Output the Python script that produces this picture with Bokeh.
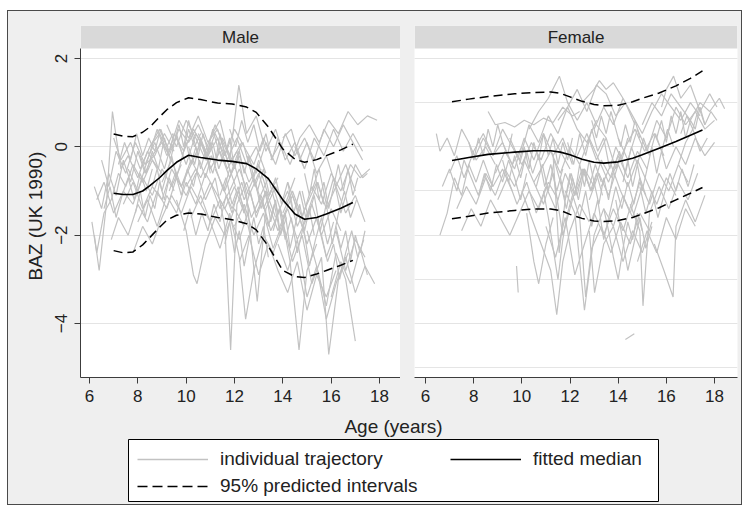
from bokeh.plotting import figure
from bokeh.layouts import column, row
from bokeh.models import (ColumnDataSource, FixedTicker, Range1d, Title, Label,
                          Legend, LegendItem, Grid)
from bokeh.embed import file_html
from bokeh.resources import INLINE

FONT = "Liberation Sans"
OUTER = "#efefef"
STRIP = "#d9d9d9"
TRAJ = "#c2c2c2"
AXIS = "#3c3c3c"
GRID = "#e4e4e4"
NAN = float("nan")

panel_titles = ["Male", "Female"]
age_ticks = [6, 8, 10, 12, 14, 16, 18]
baz_ticks = [-4, -2, 0, 2]
y_title = "BAZ (UK 1990)"
x_title = "Age (years)"
legend_labels = ["individual trajectory", "fitted median", "95% predicted intervals"]

# ---------------- Male: individual trajectories ----------------
male_ages = [
    [6.1, 6.3, 6.6, 6.9, 7.2, 7.5, 7.8, 8.2, 8.6, 9.0],
    [6.2, 6.4, 6.7, 6.95, 7.3, 7.6, 8.0, 8.4, 8.8],
    [6.3, 6.6, 7.0, 7.4, 7.8, 8.2, 8.6, 9.0, 9.4, 9.8],
    [6.5, 6.8, 7.1, 7.5, 7.9, 8.3, 8.7, 9.1, 9.5],
    [6.9, 7.2, 7.6, 8.0, 8.4, 8.8, 9.2, 9.6, 10.0, 10.4],
    [7.0, 7.3, 7.7, 8.1, 8.5, 8.9, 9.3, 9.7, 10.1, 10.5, 10.9],
    [7.4, 7.8, 8.2, 8.6, 9.0, 9.4, 9.8, 10.2, 10.6, 11.0],
    [7.6, 8.0, 8.4, 8.8, 9.2, 9.6, 10.0, 10.4, 10.8, 11.2, 11.6, 12.0],
    [8.0, 8.4, 8.8, 9.2, 9.6, 10.0, 10.4, 10.8, 11.2, 11.6, 12.0, 12.4],
    [8.5, 8.9, 9.3, 9.7, 10.1, 10.5, 10.9, 11.3, 11.7, 12.1, 12.5, 12.9, 13.3],
    [9.0, 9.4, 9.8, 10.2, 10.6, 11.0, 11.4, 11.8, 12.2, 12.6, 13.0, 13.4, 13.8],
    [9.6, 10.0, 10.3, 10.45, 10.8, 11.2, 11.6, 12.0, 12.4],
    [10.0, 10.4, 10.8, 11.2, 11.6, 11.84, 12.1, 12.5, 12.9, 13.3, 13.7],
    [10.2, 10.6, 11.0, 11.4, 11.8, 12.2, 12.46, 12.8, 13.2, 13.6, 14.0],
    [10.5, 10.9, 11.3, 11.7, 12.1, 12.5, 12.94, 13.3, 13.7, 14.1, 14.5],
    [11.0, 11.4, 11.8, 12.18, 12.5, 12.9, 13.3, 13.7, 14.1, 14.5, 14.9],
    [11.5, 11.9, 12.3, 12.7, 13.1, 13.5, 13.9, 14.3, 14.67, 15.0, 15.4],
    [12.0, 12.4, 12.8, 13.2, 13.6, 14.0, 14.4, 14.8, 15.2, 15.6, 15.9, 16.3, 16.7],
    [12.5, 12.9, 13.3, 13.7, 14.1, 14.5, 14.9, 15.3, 15.7, 16.1, 16.5, 16.9, 17.3],
    [13.0, 13.4, 13.8, 14.2, 14.6, 15.0, 15.4, 15.8, 16.2, 16.6, 17.0, 17.4],
    [13.5, 13.9, 14.3, 14.7, 15.1, 15.5, 15.9, 16.3, 16.7, 17.1, 17.5, 17.9],
    [13.8, 14.2, 14.6, 15.0, 15.4, 15.8, 16.2, 16.6, 17.0, 17.4, 17.8],
    [14.0, 14.4, 14.8, 15.2, 15.6, 16.0, 16.4, 16.8, 17.2, 17.6],
    [14.2, 14.6, 15.0, 15.4, 15.8, 16.2, 16.6, 17.0, 17.4],
    [14.5, 14.9, 15.3, 15.7, 16.1, 16.5, 16.9, 17.3],
    [15.0, 15.4, 15.8, 16.2, 16.6, 17.0],
    [6.2, 6.5, 6.8, 7.1, 7.4, 7.7, 8.0, 8.3, 8.6, 9.0, 9.4],
    [7.8, 8.2, 8.6, 9.0, 9.4, 9.8, 10.2, 10.6, 11.0, 11.4, 11.8, 12.2, 12.6],
    [9.2, 9.6, 10.0, 10.4, 10.8, 11.2, 11.6, 12.0, 12.4, 12.8, 13.2, 13.6],
    [11.2, 11.6, 12.0, 12.4, 12.8, 13.2, 13.6, 14.0, 14.4, 14.8, 15.2, 15.6, 16.0, 16.4],
    [12.2, 12.6, 13.0, 13.4, 13.8, 14.2, 14.6, 15.0, 15.4, 15.8, 16.2],
    [15.2, 15.5, 15.8, 16.1, 16.4, 16.7, 17.0, 17.3, 17.5],
    [14.0, 14.35, 14.7, 15.0, 15.4, 15.8, 16.2, 16.6, 17.0],
    [8.3, 8.7, 9.1, 9.5, 9.9, 10.3, 10.7, 11.1, 11.5, 11.9, 12.3],
    [10.6, 11.0, 11.4, 11.8, 12.2, 12.6, 13.0, 13.4, 13.8, 14.2, 14.6, 15.0],
    [16.0, 16.4, 16.8, 17.2, 17.5],
    [8.1, 8.35, 8.6, 8.85, 9.1, 9.35, 9.6, 9.85, 10.1, 10.35, 10.6],
    [9.3, 9.55, 9.8, 10.05, 10.3, 10.55, 10.8, 11.05, 11.3, 11.55, 11.8, 12.05],
    [10.1, 10.35, 10.6, 10.85, 11.1, 11.35, 11.6, 11.85, 12.1, 12.35, 12.6, 12.85, 13.1],
    [11.4, 11.65, 11.9, 12.15, 12.4, 12.65, 12.9, 13.15, 13.4, 13.65, 13.9, 14.15],
    [12.7, 12.95, 13.2, 13.45, 13.7, 13.95, 14.2, 14.45, 14.7, 14.95, 15.2, 15.45, 15.7],
    [13.6, 13.85, 14.1, 14.35, 14.6, 14.85, 15.1, 15.35, 15.6, 15.85, 16.1],
    [14.8, 15.05, 15.3, 15.55, 15.8, 16.05, 16.3, 16.55, 16.8, 17.05],
    [6.6, 6.85, 7.1, 7.35, 7.6, 7.85, 8.1, 8.35, 8.6],
    [7.2, 7.45, 7.7, 7.95, 8.2, 8.45, 8.7, 8.95, 9.2, 9.45],
    [9.9, 10.15, 10.4, 10.65, 10.9, 11.15, 11.4, 11.65, 11.9, 12.15, 12.4, 12.65],
    [15.6, 15.85, 16.1, 16.35, 16.6, 16.85, 17.1, 17.35],
    [11.8, 12.05, 12.3, 12.55, 12.8, 13.05, 13.3, 13.55, 13.8, 14.05],
    [8.6, 8.8, 9.0, 9.2, 9.4, 9.6, 9.8, 10.0, 10.2, 10.4, 10.6, 10.8, 11.0],
    [10.8, 11.0, 11.2, 11.4, 11.6, 11.8, 12.0, 12.2, 12.4, 12.6, 12.8, 13.0],
    [12.9, 13.1, 13.3, 13.5, 13.7, 13.9, 14.1, 14.3, 14.5, 14.7, 14.9, 15.1, 15.3],
    [14.9, 15.1, 15.3, 15.5, 15.7, 15.9, 16.1, 16.3, 16.5, 16.7, 16.9, 17.1],
    [9.5, 9.7, 9.9, 10.1, 10.3, 10.5, 10.7, 10.9, 11.1, 11.3, 11.5],
    [7.9, 8.1, 8.3, 8.5, 8.7, 8.9, 9.1, 9.3, 9.5],
    [16.2, 16.4, 16.6, 16.8, 17.0, 17.2, 17.4],
    [11.6, 11.8, 12.0, 12.2, 12.4, 12.6, 12.8, 13.0, 13.2, 13.4],
]
male_baz = [
    [-1.7, -2.4, -1.5, -1.2, -0.6, -0.9, -0.4, -0.8, -0.3, -0.6],
    [-2.0, -2.8, -1.3, 0.8, -0.5, -0.2, -0.7, -0.1, -0.5],
    [-1.2, -0.8, -1.5, -1.0, -1.3, -0.7, -1.1, -0.5, -0.9, -0.4],
    [-0.3, -0.9, -0.1, -0.6, 0.1, -0.4, -0.2, 0.3, -0.1],
    [-2.1, -1.6, -2.0, -1.3, -1.7, -1.0, -1.4, -0.7, -1.1, -0.6],
    [0.2, -0.3, 0.1, -0.5, 0.0, 0.3, -0.2, 0.4, 0.1, 0.5, 0.0],
    [-1.3, -0.8, -1.4, -0.9, -1.2, -0.5, -0.9, -0.3, -0.7, -0.2],
    [-0.5, -1.0, -0.3, 0.4, -0.2, 0.2, -0.4, 0.3, -0.1, 0.5, 0.0, -0.5],
    [-1.7, -1.2, -1.8, -1.1, -1.5, -0.8, -1.3, -0.6, -1.0, -1.4, -0.9, -1.5],
    [0.0, 0.4, -0.1, 0.6, 0.2, 0.7, 0.1, 0.4, -0.3, 0.2, -0.4, 0.0, -0.6],
    [-0.8, -0.3, -0.9, -0.4, 0.1, -0.5, -0.1, -0.7, -0.2, -0.8, -0.4, -1.1, -0.7],
    [-1.2, -1.9, -2.9, -3.1, -2.2, -1.6, -2.0, -1.4, -1.8],
    [-0.9, -0.5, -1.2, -0.7, -1.8, -4.6, -1.3, -0.8, -1.5, -1.0, -1.6],
    [-1.6, -1.1, -1.7, -2.3, -1.5, -2.5, -3.9, -2.8, -2.0, -2.4, -1.8],
    [0.3, -0.2, 0.2, -0.5, -0.1, -1.1, -3.5, -1.4, -0.9, -1.3, -0.7],
    [0.2, 0.6, -0.3, 1.4, 0.3, 0.7, -0.1, 0.4, -0.3, 0.1, -0.5],
    [-0.9, -1.4, -0.8, -1.6, -1.1, -1.9, -1.4, -2.6, -4.6, -2.8, -2.2],
    [-1.8, -1.3, -2.0, -1.5, -2.3, -1.7, -2.6, -2.0, -3.1, -2.5, -4.7, -3.0, -2.4],
    [-0.2, -0.6, 0.1, -0.4, 0.3, -0.2, 0.2, -0.3, 0.4, 0.0, 0.5, 0.1, -0.3],
    [-1.2, -0.7, -1.5, -1.0, -1.8, -1.3, -0.8, -1.4, -0.9, -1.5, -1.1, -1.7],
    [-0.3, 0.1, -0.4, 0.2, 0.5, 0.1, 0.6, 0.3, 0.8, 0.5, 0.7, 0.6],
    [-2.2, -2.8, -2.1, -3.4, -2.7, -3.9, -3.1, -2.5, -3.3, -2.7, -3.1],
    [-1.5, -1.0, -1.6, -0.9, -1.3, -0.6, -1.0, -0.4, -0.7, -0.5],
    [-0.8, -1.4, -2.2, -1.6, -2.5, -1.9, -2.8, -2.1, -2.5],
    [0.0, -0.5, 0.2, -0.2, 0.4, -0.1, 0.3, -0.1],
    [-1.9, -2.7, -3.6, -2.4, -3.0, -4.4],
    [-0.9, -1.4, -0.6, -1.1, -0.3, -0.8, -0.1, -0.6, -0.2, 0.1, -0.3],
    [-2.4, -1.8, -2.2, -1.6, -1.1, -1.5, -0.9, -1.3, -1.7, -1.2, -1.6, -2.1, -1.4],
    [0.5, 0.0, 0.6, 0.2, -0.3, 0.3, -0.2, 0.4, 0.0, -0.4, 0.2, -0.3],
    [-0.5, -1.0, -0.4, -1.2, -0.7, -1.4, -0.9, -1.6, -1.1, -1.8, -1.3, -2.0, -1.4, -1.9],
    [-2.6, -2.0, -2.9, -2.2, -2.8, -3.3, -2.6, -3.7, -2.9, -3.4, -2.8],
    [-1.0, -0.5, -1.3, -0.7, -1.5, -0.9, -0.4, -0.7, -0.6],
    [0.2, 0.4, -0.3, 0.1, -0.6, -0.2, -0.9, -0.4, -1.0],
    [-0.4, 0.1, -0.5, 0.3, -0.1, 0.4, 0.0, -0.6, 0.2, -0.3, 0.1],
    [-1.3, -0.8, -1.4, -1.0, -0.5, -1.1, -0.6, -1.3, -1.9, -1.4, -2.1, -1.6],
    [-3.4, -2.6, -3.1, -2.3, -2.9],
    [-0.2, -0.6, -0.1, -0.5, 0.2, -0.3, 0.3, -0.2, 0.4, 0.0, 0.3],
    [-1.0, -0.6, -1.1, -0.5, -0.9, -0.3, -0.7, -0.2, -0.6, -1.0, -0.5, -0.9],
    [0.0, -0.4, 0.2, -0.3, 0.1, -0.5, -0.1, -0.6, -0.2, 0.1, -0.4, -0.9, -0.5],
    [-1.1, -0.7, -1.3, -0.9, -1.5, -1.0, -1.6, -1.2, -1.8, -1.3, -2.0, -1.6],
    [-0.6, -1.0, -0.5, -1.1, -0.7, -1.3, -0.8, -1.5, -1.0, -1.6, -1.2, -0.8, -1.3],
    [-1.9, -1.4, -2.1, -1.6, -2.4, -1.8, -2.7, -2.1, -1.6, -2.2, -1.7],
    [-1.0, -1.6, -1.1, -1.9, -1.3, -2.2, -1.5, -1.0, -1.6, -1.2],
    [-1.4, -0.9, -1.6, -1.1, -0.7, -1.2, -0.6, -1.0, -0.5],
    [-0.4, 0.1, -0.3, 0.3, -0.2, 0.2, -0.1, 0.4, 0.0, 0.3],
    [-1.9, -1.4, -2.0, -1.5, -1.9, -1.3, -1.7, -1.1, -1.5, -1.0, -1.4, -2.0],
    [-2.0, -2.6, -2.2, -3.0, -2.4, -1.9, -2.5, -2.1],
    [0.4, 0.0, 0.6, 0.1, 0.5, -0.1, 0.3, -0.3, 0.2, -0.2],
    [-0.9, -0.5, -1.0, -0.6, -0.2, -0.7, -0.3, 0.1, -0.4, 0.0, -0.5, -0.1, -0.6],
    [-0.3, 0.1, -0.4, 0.3, -0.2, 0.2, -0.5, -0.1, -0.6, -0.2, -0.7, -0.3],
    [-0.9, -1.4, -1.0, -1.7, -1.2, -2.0, -1.5, -2.3, -1.8, -1.3, -1.9, -1.4, -2.0],
    [-0.6, -1.1, -0.5, -1.2, -0.8, -1.4, -0.9, -0.4, -1.0, -0.5, -1.1, -0.7],
    [0.1, 0.5, 0.0, 0.6, 0.2, -0.2, 0.3, -0.1, 0.4, 0.0, -0.3],
    [-1.5, -1.0, -1.6, -1.1, -1.4, -0.8, -1.2, -0.7, -1.0],
    [-1.8, -2.3, -1.9, -2.6, -2.0, -2.4, -1.9],
    [-2.2, -1.7, -2.4, -1.9, -2.7, -2.1, -1.6, -2.2, -1.8, -2.5],
]

# ---------------- Male: fitted median and 95% predicted interval ----------------
male_fit_age = [7.0, 7.4, 7.8, 8.2, 8.5, 8.9, 9.2, 9.6, 10.1, 10.6, 11.3, 11.9,
                12.5, 12.9, 13.4, 14.0, 14.5, 14.9, 15.4, 15.8, 16.4, 16.9]
male_median = [-1.05, -1.08, -1.08, -1.00, -0.88, -0.70, -0.54, -0.35, -0.19, -0.24, -0.30, -0.33,
               -0.38, -0.50, -0.72, -1.20, -1.52, -1.64, -1.60, -1.52, -1.39, -1.26]
male_upper = [0.29, 0.24, 0.23, 0.33, 0.45, 0.68, 0.84, 1.00, 1.11, 1.07, 0.99, 0.97,
              0.90, 0.78, 0.45, -0.05, -0.28, -0.35, -0.29, -0.20, -0.07, 0.06]
male_lower = [-2.35, -2.40, -2.38, -2.22, -2.05, -1.82, -1.66, -1.55, -1.50, -1.52, -1.60, -1.65,
              -1.74, -1.88, -2.25, -2.80, -2.94, -2.96, -2.88, -2.80, -2.68, -2.57]

# ---------------- Female: individual trajectories ----------------
female_ages = [
    [6.45, 6.6, 6.9, 7.2, 7.5, 7.8, 8.1, 8.5, 8.9],
    [6.6, 6.9, 7.2, 7.5, 7.8, 8.1, 8.4, 8.8, 9.2, 9.6],
    [7.0, 7.3, 7.6, 8.0, 8.4, 8.8, 9.2, 9.6, 10.0],
    [7.3, 7.7, 8.1, 8.5, 8.9, 9.3, 9.7, 10.1, 10.5, 10.9],
    [8.0, 8.4, 8.8, 9.2, 9.6, 10.0, 10.4, 10.8, 11.2, 11.6, 12.0],
    [8.6, 8.9, 9.3, 9.7, 10.1, 10.5, 10.9, 11.3, 11.7, 12.1, 12.4],
    [9.0, 9.4, 9.8, 10.2, 10.6, 11.0, 11.4, 11.8, 12.2, 12.6, 13.0],
    [9.5, 9.9, 10.3, 10.7, 11.1, 11.5, 11.9, 12.3, 12.7, 13.1],
    [9.78, 9.85],
    [10.0, 10.4, 10.8, 11.2, 11.45, 11.7, 12.0, 12.4, 12.8],
    [10.3, 10.7, 11.1, 11.56, 11.9, 12.3, 12.7, 13.1, 13.5],
    [10.5, 10.9, 11.3, 11.7, 12.1, 12.5, 12.9, 13.3, 13.7, 14.1],
    [11.0, 11.4, 11.8, 12.2, 12.6, 13.0, 13.4, 13.8, 14.2, 14.6],
    [11.5, 11.9, 12.3, 12.7, 13.1, 13.5, 13.9, 14.3, 14.7],
    [12.0, 12.4, 12.65, 12.9, 13.3, 13.7, 14.1, 14.5, 14.9, 15.3],
    [12.3, 12.7, 13.1, 13.5, 13.9, 14.3, 14.7, 15.1, 15.5, 15.9],
    [12.8, 13.2, 13.6, 14.0, 14.4, 14.8, 15.2, 15.6, 16.0, 16.4],
    [13.0, 13.4, 13.8, 14.2, 14.6, 15.0, 15.4, 15.8, 16.2, 16.6, 17.0, 17.4],
    [12.8, 13.02, 13.4, 13.8, 14.2, 14.6, 15.0, 15.4],
    [14.0, 14.4, 14.8, 15.2, 15.6, 16.0, 16.4, 16.8, 17.2, 17.6, 18.0],
    [14.3, 14.67],
    [14.5, 14.9, 15.03, 15.3, 15.7, 16.1, 16.5, 16.9, 17.3],
    [15.0, 15.4, 15.8, 16.2, 16.6, 17.0, 17.4, 17.8, 18.2, 18.42],
    [15.5, 15.9, 16.28, 16.4, 16.8, 17.2, 17.6],
    [15.8, 16.0, 16.3, 16.6, 17.0, 17.4, 17.8, 18.1],
    [11.8, 12.2, 12.6, 13.0, 13.4, 13.8, 14.2, 14.6, 15.0],
    [12.5, 13.0, 13.22, 13.5, 13.8, 14.2],
    [7.5, 7.9, 8.3, 8.7, 9.1, 9.5, 9.9, 10.3, 10.7, 11.1, 11.5],
    [16.0, 16.4, 16.8, 17.2, 17.6, 18.0],
    [10.8, 11.2, 11.6, 12.0, 12.4, 12.8, 13.2, 13.6, 14.0, 14.4, 14.8, 15.2],
    [13.3, 13.7, 14.1, 14.5, 14.9, 15.3, 15.7, 16.1, 16.5, 16.9],
    [6.7, 7.0, 7.3, 7.6, 7.9, 8.2, 8.5, 8.8],
    [16.5, 16.8, 17.1, 17.4, 17.7],
    [10.2, 10.5, 10.7, 11.0, 11.3],
    [8.9, 9.3, 9.7, 10.1, 10.5, 10.9, 11.3, 11.7, 12.1],
    [14.8, 15.2, 15.6, 16.0, 16.4, 16.8, 17.2],
    [9.2, 9.45, 9.7, 9.95, 10.2, 10.45, 10.7, 10.95, 11.2, 11.45, 11.7],
    [10.6, 10.85, 11.1, 11.35, 11.6, 11.85, 12.1, 12.35, 12.6, 12.85, 13.1, 13.35],
    [11.9, 12.15, 12.4, 12.65, 12.9, 13.15, 13.4, 13.65, 13.9, 14.15, 14.4],
    [12.4, 12.65, 12.9, 13.15, 13.4, 13.65, 13.9, 14.15, 14.4, 14.65, 14.9, 15.15],
    [13.8, 14.05, 14.3, 14.55, 14.8, 15.05, 15.3, 15.55, 15.8, 16.05, 16.3],
    [14.9, 15.15, 15.4, 15.65, 15.9, 16.15, 16.4, 16.65, 16.9, 17.15],
    [8.2, 8.45, 8.7, 8.95, 9.2, 9.45, 9.7, 9.95, 10.2],
    [16.6, 16.85, 17.1, 17.35, 17.6, 17.85, 18.1],
    [11.3, 11.55, 11.8, 12.05, 12.3, 12.55, 12.8, 13.05, 13.3],
    [13.9, 14.15, 14.4, 14.65, 14.9, 15.15, 15.4],
    [9.9, 10.1, 10.3, 10.5, 10.7, 10.9, 11.1, 11.3, 11.5, 11.7, 11.9, 12.1],
    [11.6, 11.8, 12.0, 12.2, 12.4, 12.6, 12.8, 13.0, 13.2, 13.4, 13.6, 13.8],
    [12.9, 13.1, 13.3, 13.5, 13.7, 13.9, 14.1, 14.3, 14.5, 14.7, 14.9],
    [14.2, 14.4, 14.6, 14.8, 15.0, 15.2, 15.4, 15.6, 15.8, 16.0],
    [7.8, 8.0, 8.2, 8.4, 8.6, 8.8, 9.0, 9.2, 9.4, 9.6],
    [15.6, 15.8, 16.0, 16.2, 16.4, 16.6, 16.8, 17.0, 17.2, 17.4, 17.6],
    [10.9, 11.1, 11.3, 11.5, 11.7, 11.9, 12.1],
    [13.4, 13.6, 13.8, 14.0, 14.2, 14.4, 14.6, 14.8, 15.0],
]
female_baz = [
    [0.3, -0.1, 0.2, -0.2, 0.4, 0.1, -0.3, 0.0, -0.4],
    [-2.0, -1.5, -0.7, -1.1, -0.4, -0.8, -0.3, -0.9, -0.5, -1.0],
    [-0.6, -0.2, -0.7, -0.1, 0.3, -0.2, 0.1, -0.4, 0.0],
    [-1.4, -0.9, -1.3, -0.7, -1.1, -0.5, -0.9, -0.3, -0.8, -0.4],
    [-0.3, 0.2, -0.2, 0.4, 0.0, -0.4, 0.1, -0.3, 0.3, -0.1, -0.5],
    [0.8, 0.5, 0.55, 0.45, 0.6, 0.5, 0.65, 0.55, 0.9, 0.7, 0.8],
    [-1.2, -0.7, -1.3, -0.8, -1.5, -0.9, -1.4, -0.6, -1.1, -0.5, -0.9],
    [0.2, -0.3, 0.5, 0.1, 0.7, 0.3, 0.9, 0.4, 0.1, 0.6],
    [-2.7, -3.3],
    [-1.0, -1.6, -2.2, -2.8, -3.8, -2.6, -1.9, -1.3, -1.7],
    [0.4, 0.8, 1.1, 1.6, 1.0, 0.6, 1.0, 0.5, 0.2],
    [-0.8, -1.3, -0.6, -2.0, -1.2, -0.5, -1.0, -0.3, -0.7, -0.2],
    [-1.8, -2.5, -1.6, -2.9, -2.2, -1.5, -2.0, -1.4, -1.9, -1.2],
    [0.6, 0.9, 1.3, 0.8, 1.4, 1.2, 0.7, 1.0, 0.5],
    [-0.9, -1.6, -3.4, -2.3, -1.8, -2.4, -1.7, -2.2, -1.5, -1.9],
    [-0.2, 0.3, -0.3, 0.2, -0.5, 0.0, 0.4, -0.1, 0.3, -0.2],
    [-1.2, -0.6, -1.1, -0.4, -0.9, -0.3, -0.8, -1.3, -0.7, -1.1],
    [0.4, 0.9, 0.5, 1.1, 0.7, 0.3, 0.8, 1.2, 0.9, 0.6, 1.0, 0.7],
    [-1.9, -3.3, -2.2, -1.8, -2.6, -1.9, -2.4, -1.7],
    [0.2, -0.3, 0.4, -0.1, 0.6, 0.2, 0.9, 0.5, 0.8, 0.4, 0.6],
    [-4.36, -4.23],
    [-1.3, -1.9, -3.6, -1.5, -0.9, -1.4, -0.8, -1.2, -0.6],
    [0.5, 1.0, 0.7, 1.2, 0.9, 0.6, 1.0, 0.8, 1.1, 0.86],
    [-2.2, -2.8, -3.4, -1.8, -1.2, -1.7, -1.1],
    [0.9, 1.3, 1.6, 1.1, 1.4, 0.8, 1.2, 0.9],
    [-1.0, -1.5, -3.7, -2.0, -1.4, -1.8, -1.1, -1.6, -0.9],
    [1.0, 1.3, 1.5, 1.3, 1.45, 1.1],
    [-1.9, -1.4, -1.8, -1.2, -1.6, -2.0, -1.5, -1.0, -1.4, -0.8, -1.2],
    [-0.5, 0.0, -0.4, 0.2, -0.2, 0.1],
    [-0.5, -0.1, -0.6, 0.0, -0.4, 0.2, -0.3, -0.8, -0.2, -0.7, -0.1, -0.5],
    [-0.9, -0.4, -1.0, -1.5, -0.8, -1.3, -0.6, -1.0, -0.4, -0.8],
    [-0.9, -0.5, -1.0, -0.3, -0.7, -1.1, -0.6, -0.9],
    [-0.4, 0.1, 0.4, -0.1, 0.2],
    [-1.5, -2.6, -3.1, -2.2, -1.6],
    [-0.6, -0.1, -0.5, 0.2, -0.3, 0.3, -0.2, 0.2, -0.4],
    [-2.6, -1.9, -2.4, -1.6, -2.1, -1.4, -1.8],
    [-0.3, -0.8, -0.2, -0.7, -0.1, -0.6, -0.2, -0.9, -0.4, -1.0, -0.5],
    [-0.9, -0.4, -1.0, -0.3, -0.8, -1.4, -0.7, -1.2, -0.5, -1.0, -0.6, -1.1],
    [0.1, -0.4, 0.3, -0.2, 0.4, -0.1, 0.2, -0.5, 0.0, -0.3, 0.2],
    [-1.6, -1.0, -1.8, -1.2, -2.1, -1.5, -0.9, -1.4, -0.8, -1.3, -0.7, -1.1],
    [-0.5, -0.1, -0.6, 0.0, -0.4, 0.2, -0.2, 0.3, -0.1, 0.4, 0.0],
    [-0.9, -1.5, -1.0, -1.6, -1.1, -0.6, -1.0, -0.5, -0.9, -0.4],
    [-1.1, -0.6, -1.0, -0.4, -0.8, -0.3, -0.7, -1.2, -0.6],
    [0.3, 0.7, 0.4, 0.9, 0.5, 0.8, 0.6],
    [-0.2, -2.4, -1.2, -0.6, -1.1, -0.5, -0.9, -0.4, -0.8],
    [-1.2, -2.0, -2.8, -2.2, -1.6, -2.3, -1.8],
    [-0.4, 0.0, -0.5, 0.1, -0.3, 0.3, -0.2, 0.2, -0.4, 0.1, -0.3, 0.2],
    [-0.7, -1.2, -0.6, -1.1, -0.4, -0.9, -0.3, -0.8, -1.3, -0.7, -1.2, -0.6],
    [0.6, 0.2, 0.7, 0.3, 0.8, 0.4, 0.0, 0.5, 0.1, 0.6, 0.2],
    [-0.8, -0.3, -0.9, -0.4, -1.0, -0.5, 0.0, -0.6, -0.1, -0.5],
    [0.1, -0.3, 0.2, -0.2, 0.4, 0.0, 0.5, 0.1, -0.2, 0.3],
    [0.2, 0.6, 0.1, 0.7, 0.3, 0.8, 0.2, 0.6, 0.4, 0.9, 0.5],
    [-1.0, -1.6, -2.3, -3.0, -2.1, -1.5, -1.1],
    [-1.4, -1.9, -2.5, -3.0, -2.3, -1.7, -2.1, -1.5, -1.9],
]

# ---------------- Female: fitted median and 95% predicted interval ----------------
female_fit_age = [7.1, 7.8, 8.6, 9.7, 10.5, 11.2, 11.6, 12.0, 12.5, 13.0, 13.4, 14.0,
                  14.6, 15.0, 15.7, 16.4, 17.0, 17.5]
female_median = [-0.31, -0.24, -0.17, -0.12, -0.09, -0.09, -0.12, -0.18, -0.28, -0.35, -0.37, -0.34,
                 -0.26, -0.18, -0.03, 0.12, 0.26, 0.38]
female_upper = [1.02, 1.08, 1.14, 1.20, 1.23, 1.24, 1.21, 1.13, 1.03, 0.96, 0.93, 0.94,
                1.02, 1.10, 1.22, 1.38, 1.55, 1.72]
female_lower = [-1.63, -1.57, -1.50, -1.44, -1.41, -1.41, -1.44, -1.53, -1.62, -1.68, -1.69, -1.67,
                -1.60, -1.52, -1.38, -1.20, -1.05, -0.92]

# ---------------- layout geometry ----------------
Y0, Y1 = -5.2226, 2.747      # y range incl. strip
STRIP_BOTTOM = 2.226
X_RANGES = {"Male": (5.628, 18.869), "Female": (5.544, 18.954)}


def style_xaxis(p):
    ax = p.xaxis[0]
    ax.ticker = FixedTicker(ticks=age_ticks)
    ax.axis_line_color = AXIS
    ax.major_tick_line_color = AXIS
    ax.major_tick_out = 6
    ax.major_tick_in = 0
    ax.minor_tick_line_color = None
    ax.major_label_text_font = FONT
    ax.major_label_text_font_size = "17px"
    ax.major_label_text_color = "#222222"
    ax.major_label_standoff = 6


def make_panel(name, ages, baz, fit_age, med, up, lo, with_y):
    x0, x1 = X_RANGES[name]
    p = figure(width=392 if with_y else 341, height=14 + 352 + 35,
               x_range=Range1d(x0, x1), y_range=Range1d(Y0, Y1),
               min_border_left=72 if with_y else 14, min_border_right=0 if with_y else 4,
               min_border_top=14, min_border_bottom=35,
               toolbar_location=None, output_backend="svg",
               y_axis_location="left" if with_y else None,
               background_fill_color="white", border_fill_color=OUTER,
               outline_line_color=None, styles={"background-color": OUTER})
    style_xaxis(p)
    p.xgrid.visible = False
    if with_y:
        ay = p.yaxis[0]
        ay.ticker = FixedTicker(ticks=baz_ticks)
        ay.bounds = (Y0, STRIP_BOTTOM)
        ay.axis_line_color = AXIS
        ay.major_tick_line_color = AXIS
        ay.major_tick_out = 6
        ay.major_tick_in = 0
        ay.minor_tick_line_color = None
        ay.major_label_text_font = FONT
        ay.major_label_text_font_size = "17px"
        ay.major_label_text_color = "#222222"
        ay.major_label_orientation = "vertical"
        ay.major_label_standoff = 7
        p.ygrid.visible = False
        t = Title(text=y_title, align="left", offset=97, standoff=14,
                  text_font=FONT, text_font_size="19px", text_font_style="normal",
                  text_color="#222222")
        p.add_layout(t, "left")
    p.add_layout(Grid(dimension=1, ticker=FixedTicker(ticks=baz_ticks),
                      grid_line_color=GRID, grid_line_width=1))
    # strip
    p.quad(left=[x0], right=[x1], bottom=[STRIP_BOTTOM], top=[Y1],
           fill_color=STRIP, line_color=None)
    p.add_layout(Label(x=(x0 + x1) / 2, y=(STRIP_BOTTOM + Y1) / 2, text=name,
                       text_align="center", text_baseline="middle",
                       text_font=FONT, text_font_size="17px", text_color="#222222"))
    src = ColumnDataSource(dict(xs=ages, ys=baz))
    p.multi_line(xs="xs", ys="ys", source=src, line_color=TRAJ, line_width=1.2)
    p.line(fit_age, up, line_color="black", line_width=1.5, line_dash="9 5")
    p.line(fit_age, lo, line_color="black", line_width=1.5, line_dash="9 5")
    p.line(fit_age, med, line_color="black", line_width=1.6)
    return p


pm = make_panel(panel_titles[0], male_ages, male_baz, male_fit_age,
                male_median, male_upper, male_lower, True)
pf = make_panel(panel_titles[1], female_ages, female_baz, female_fit_age,
                female_median, female_upper, female_lower, False)

# ---------------- legend strip below ----------------
lg = figure(width=733, height=27 + 62 + 3, x_range=Range1d(0, 1), y_range=Range1d(0, 1),
            min_border_left=120, min_border_right=83, min_border_top=27, min_border_bottom=3,
            toolbar_location=None, output_backend="svg",
            background_fill_color="white", border_fill_color=OUTER,
            outline_line_color="black", outline_line_width=1,
            styles={"background-color": OUTER})
lg.axis.visible = False
lg.grid.visible = False
lg.add_layout(Title(text=x_title, align="center", vertical_align="top", standoff=2,
                    text_font=FONT, text_font_size="19px", text_font_style="normal",
                    text_color="#222222"),
              "above")
# legend-only renderers (no visible data)
r_traj = lg.line([NAN, NAN], [NAN, NAN], line_color=TRAJ, line_width=1.3)
r_med = lg.line([NAN, NAN], [NAN, NAN], line_color="black", line_width=1.6)
r_int = lg.line([NAN, NAN], [NAN, NAN], line_color="black", line_width=1.5, line_dash="10 5")


def make_legend(items, loc, label_width=20):
    return Legend(items=items, location=loc, orientation="vertical",
                  glyph_width=71, glyph_height=20, label_height=20, label_width=label_width,
                  label_standoff=12, spacing=5, padding=0, margin=9,
                  border_line_color=None, background_fill_alpha=0,
                  label_text_font=FONT, label_text_font_size="19px",
                  label_text_color="#222222")


lg.add_layout(make_legend([LegendItem(label=legend_labels[0], renderers=[r_traj]),
                           LegendItem(label=legend_labels[2], renderers=[r_int])], "top_left"))
lg.add_layout(make_legend([LegendItem(label=legend_labels[1], renderers=[r_med])], "top_right",
                          label_width=116))

layout = column(row(pm, pf, styles={"background-color": OUTER}), lg,
                styles={"border": "1px solid #4a4a4a", "margin-left": "7px", "margin-top": "10px",
                        "background-color": OUTER})

open("out.html", "w").write(file_html(layout, INLINE))
